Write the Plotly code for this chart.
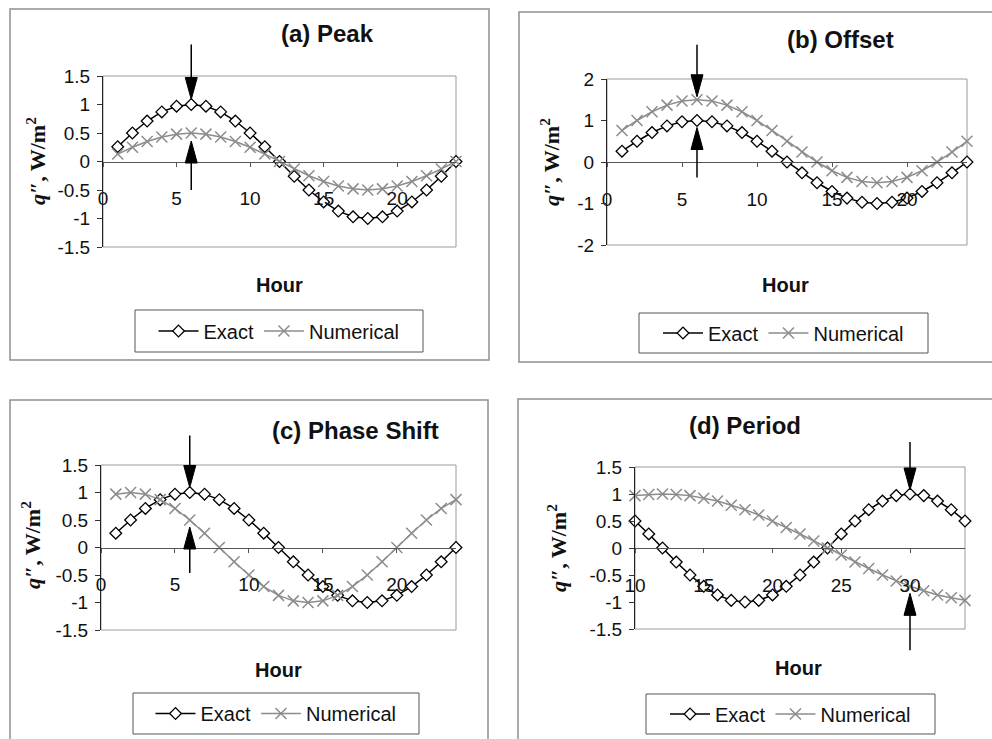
import plotly.graph_objects as go

W, H = 992, 739

# ---------------- data ----------------
hours_day = list(range(1, 25))
hours_period = list(range(10, 35))

peak_exact = [0.26, 0.5, 0.71, 0.87, 0.97, 1.0, 0.97, 0.87, 0.71, 0.5, 0.26, 0.0,
              -0.26, -0.5, -0.71, -0.87, -0.97, -1.0, -0.97, -0.87, -0.71, -0.5, -0.26, 0.0]
peak_numerical = [0.13, 0.25, 0.35, 0.43, 0.48, 0.5, 0.48, 0.43, 0.35, 0.25, 0.13, 0.0,
                  -0.13, -0.25, -0.35, -0.43, -0.48, -0.5, -0.48, -0.43, -0.35, -0.25, -0.13, 0.0]

offset_exact = [0.26, 0.5, 0.71, 0.87, 0.97, 1.0, 0.97, 0.87, 0.71, 0.5, 0.26, 0.0,
                -0.26, -0.5, -0.71, -0.87, -0.97, -1.0, -0.97, -0.87, -0.71, -0.5, -0.26, 0.0]
offset_numerical = [0.76, 1.0, 1.21, 1.37, 1.47, 1.5, 1.47, 1.37, 1.21, 1.0, 0.76, 0.5,
                    0.24, 0.0, -0.21, -0.37, -0.47, -0.5, -0.47, -0.37, -0.21, 0.0, 0.24, 0.5]

phase_exact = [0.26, 0.5, 0.71, 0.87, 0.97, 1.0, 0.97, 0.87, 0.71, 0.5, 0.26, 0.0,
               -0.26, -0.5, -0.71, -0.87, -0.97, -1.0, -0.97, -0.87, -0.71, -0.5, -0.26, 0.0]
phase_numerical = [0.97, 1.0, 0.97, 0.87, 0.71, 0.5, 0.26, 0.0, -0.26, -0.5, -0.71, -0.87,
                   -0.97, -1.0, -0.97, -0.87, -0.71, -0.5, -0.26, 0.0, 0.26, 0.5, 0.71, 0.87]

period_exact = [0.5, 0.26, 0.0, -0.26, -0.5, -0.71, -0.87, -0.97, -1.0, -0.97, -0.87, -0.71,
                -0.5, -0.26, 0.0, 0.26, 0.5, 0.71, 0.87, 0.97, 1.0, 0.97, 0.87, 0.71, 0.5]
period_numerical = [0.97, 0.99, 1.0, 0.99, 0.97, 0.92, 0.87, 0.79, 0.71, 0.61, 0.5, 0.38,
                    0.26, 0.13, 0.0, -0.13, -0.26, -0.38, -0.5, -0.61, -0.71, -0.79, -0.87,
                    -0.92, -0.97]

titles = ["(a) Peak", "(b) Offset", "(c) Phase Shift", "(d) Period"]
series_names = ["Exact", "Numerical"]
x_title = "Hour"
y_title = "<b><i>q</i>\u2033, W/m<sup>2</sup></b>"

ytick_vals_15 = [-1.5, -1, -0.5, 0, 0.5, 1, 1.5]
ytick_text_15 = ["-1.5", "-1", "-0.5", "0", "0.5", "1", "1.5"]
ytick_vals_2 = [-2, -1, 0, 1, 2]
ytick_text_2 = ["-2", "-1", "0", "1", "2"]

# hour marked by the arrows in each panel
arrow_hours = [6, 6, 6, 30]

# ---------------- layout helpers ----------------
def px(x):
    return x / W


def py(y):
    return 1 - y / H


def dom_frac(v, rng):
    """Position of value v as a fraction of the y-axis range."""
    return (v - rng[0]) / (rng[1] - rng[0])


SANS = "Arial, Liberation Sans, sans-serif"
SERIF = "Times New Roman, Liberation Serif, serif"
GRAY_LINE = "#8c8c8c"
FRAME = "#9a9a9a"

panels = [
    dict(hours=hours_day, exact=peak_exact, num=peak_numerical,
         dom=(103, 456, 76, 247), xr=[0, 24], x0=0, yr=[-1.5, 1.5],
         yt=(ytick_vals_15, ytick_text_15), down="exact", up="num",
         arrow=(5, 60, 8, 57),
         title_pos=(327, 33), hour_pos=(279, 285), ytitle_pos=(36, 161),
         legend_box=(135, 310, 423, 352), box=(10, 9, 489, 360)),
    dict(hours=hours_day, exact=offset_exact, num=offset_numerical,
         dom=(607, 967, 79, 245), xr=[0, 24], x0=0, yr=[-2, 2],
         yt=(ytick_vals_2, ytick_text_2), down="num", up="exact",
         arrow=(3, 55, 7, 57),
         title_pos=(840, 40), hour_pos=(785, 285), ytitle_pos=(550, 162),
         legend_box=(639, 313, 928, 353), box=(519, 12, 1000, 362)),
    dict(hours=hours_day, exact=phase_exact, num=phase_numerical,
         dom=(101, 456, 465, 630), xr=[0, 24], x0=0, yr=[-1.5, 1.5],
         yt=(ytick_vals_15, ytick_text_15), down="exact", up="num",
         arrow=(5, 57, 7, 53),
         title_pos=(355, 430), hour_pos=(278, 670), ytitle_pos=(31, 545),
         legend_box=(133, 693, 419, 734), box=(10, 400, 488, 745)),
    dict(hours=hours_period, exact=period_exact, num=period_numerical,
         dom=(635, 965, 467, 629), xr=[10, 34], x0=10, yr=[-1.5, 1.5],
         yt=(ytick_vals_15, ytick_text_15), down="exact", up="num",
         arrow=(4, 52, 7, 64),
         title_pos=(745, 425), hour_pos=(798, 668), ytitle_pos=(557, 548),
         legend_box=(646, 694, 935, 734), box=(518, 399, 1000, 745)),
]

fig = go.Figure()
layout = dict(
    width=W, height=H,
    margin=dict(l=0, r=0, t=0, b=0),
    paper_bgcolor="white", plot_bgcolor="white",
    showlegend=True,
    font=dict(family=SANS, size=19, color="#111"),
)
shapes = []
annotations = []

HEAD_LEN, HEAD_HALF = 22, 6

for i, p in enumerate(panels):
    n = "" if i == 0 else str(i + 1)
    xa, ya = "x" + n, "y" + n
    leg = "legend" + n
    x0p, x1p, y0p, y1p = p["dom"]
    ydom = [py(y1p), py(y0p)]

    fig.add_trace(go.Scatter(
        x=p["hours"], y=p["exact"], name=series_names[0], mode="lines+markers",
        line=dict(color="black", width=1.5),
        marker=dict(symbol="diamond", size=9, color="white",
                    line=dict(color="black", width=1.3)),
        xaxis=xa, yaxis=ya, legend=leg, cliponaxis=False))
    fig.add_trace(go.Scatter(
        x=p["hours"], y=p["num"], name=series_names[1], mode="lines+markers",
        line=dict(color=GRAY_LINE, width=1.5),
        marker=dict(symbol="x-thin-open", size=11,
                    line=dict(color=GRAY_LINE, width=1.5)),
        xaxis=xa, yaxis=ya, legend=leg, cliponaxis=False))

    # horizontal axis crosses at zero, halfway up the plot area
    layout["xaxis" + n] = dict(
        domain=[px(x0p), px(x1p)], range=p["xr"], anchor="free",
        position=(ydom[0] + ydom[1]) / 2, automargin=False,
        tick0=p["x0"], dtick=5, ticks="outside", ticklen=4, tickcolor="#555",
        showline=True, linecolor="#555", linewidth=1,
        showgrid=False, zeroline=False, ticklabelstandoff=16,
        tickfont=dict(family=SANS, size=19, color="#111"))
    layout["yaxis" + n] = dict(
        domain=ydom, range=p["yr"], anchor=xa, automargin=False,
        tickvals=p["yt"][0], ticktext=p["yt"][1],
        ticks="outside", ticklen=5, tickcolor="#333",
        showline=True, linecolor="#222", linewidth=1,
        showgrid=False, zeroline=False, ticklabelstandoff=3,
        tickfont=dict(family=SANS, size=19, color="#111"))

    # legend, centred in its framed box
    lx0, ly0, lx1, ly1 = p["legend_box"]
    layout[leg] = dict(
        x=px((lx0 + lx1) / 2), y=py((ly0 + ly1) / 2),
        xanchor="center", yanchor="middle",
        orientation="h", borderwidth=0, bgcolor="rgba(0,0,0,0)",
        font=dict(family=SANS, size=20, color="#111"),
        itemwidth=40, tracegroupgap=0)
    shapes.append(dict(type="rect", xref="paper", yref="paper",
                       x0=px(lx0), x1=px(lx1), y0=py(ly1), y1=py(ly0),
                       line=dict(color="#555", width=1)))

    # plot-area frame
    shapes.append(dict(type="rect", xref=xa + " domain", yref=ya + " domain",
                       x0=0, x1=1, y0=0, y1=1, line=dict(color=FRAME, width=1),
                       layer="below"))
    # chart-area border
    bx0, by0, bx1, by1 = p["box"]
    shapes.append(dict(type="rect", xref="paper", yref="paper",
                       x0=px(bx0), x1=px(bx1), y0=py(by1), y1=py(by0),
                       line=dict(color="#909090", width=1.5)))

    # arrows marking the compared values at the chosen hour
    hr = arrow_hours[i]
    k = p["hours"].index(hr)
    y_down = dom_frac(p[p["down"]][k], p["yr"])
    y_up = dom_frac(p[p["up"]][k], p["yr"])
    d_tip, d_tail, u_tip, u_tail = p["arrow"]
    common = dict(xref=xa, yref=ya + " domain", xsizemode="pixel",
                  ysizemode="pixel", xanchor=hr)
    shapes.append(dict(type="line", yanchor=y_down, x0=0, x1=0,
                       y0=d_tip + HEAD_LEN - 2, y1=d_tail,
                       line=dict(color="black", width=1.5), **common))
    shapes.append(dict(type="path", yanchor=y_down,
                       path=f"M0,{d_tip} L{-HEAD_HALF},{d_tip + HEAD_LEN} "
                            f"L{HEAD_HALF},{d_tip + HEAD_LEN} Z",
                       fillcolor="black", line=dict(color="black", width=1), **common))
    shapes.append(dict(type="line", yanchor=y_up, x0=0, x1=0,
                       y0=-(u_tip + HEAD_LEN - 2), y1=-u_tail,
                       line=dict(color="black", width=1.5), **common))
    shapes.append(dict(type="path", yanchor=y_up,
                       path=f"M0,{-u_tip} L{-HEAD_HALF},{-(u_tip + HEAD_LEN)} "
                            f"L{HEAD_HALF},{-(u_tip + HEAD_LEN)} Z",
                       fillcolor="black", line=dict(color="black", width=1), **common))

    tx, ty = p["title_pos"]
    annotations.append(dict(text="<b>" + titles[i] + "</b>", x=px(tx), y=py(ty),
                            xref="paper", yref="paper", showarrow=False,
                            xanchor="center", yanchor="middle",
                            font=dict(family=SANS, size=24, color="#111")))
    hx, hy = p["hour_pos"]
    annotations.append(dict(text="<b>" + x_title + "</b>", x=px(hx), y=py(hy),
                            xref="paper", yref="paper", showarrow=False,
                            xanchor="center", yanchor="middle",
                            font=dict(family=SANS, size=20, color="#111")))
    qx, qy = p["ytitle_pos"]
    annotations.append(dict(text=y_title, x=px(qx), y=py(qy), textangle=-90,
                            xref="paper", yref="paper", showarrow=False,
                            xanchor="center", yanchor="middle",
                            font=dict(family=SERIF, size=22, color="#111")))

layout["shapes"] = shapes
layout["annotations"] = annotations
fig.update_layout(**layout)

# page body without margin so the figure fills the window exactly
fig.write_html("out.html", post_script="document.body.style.margin='0';")
